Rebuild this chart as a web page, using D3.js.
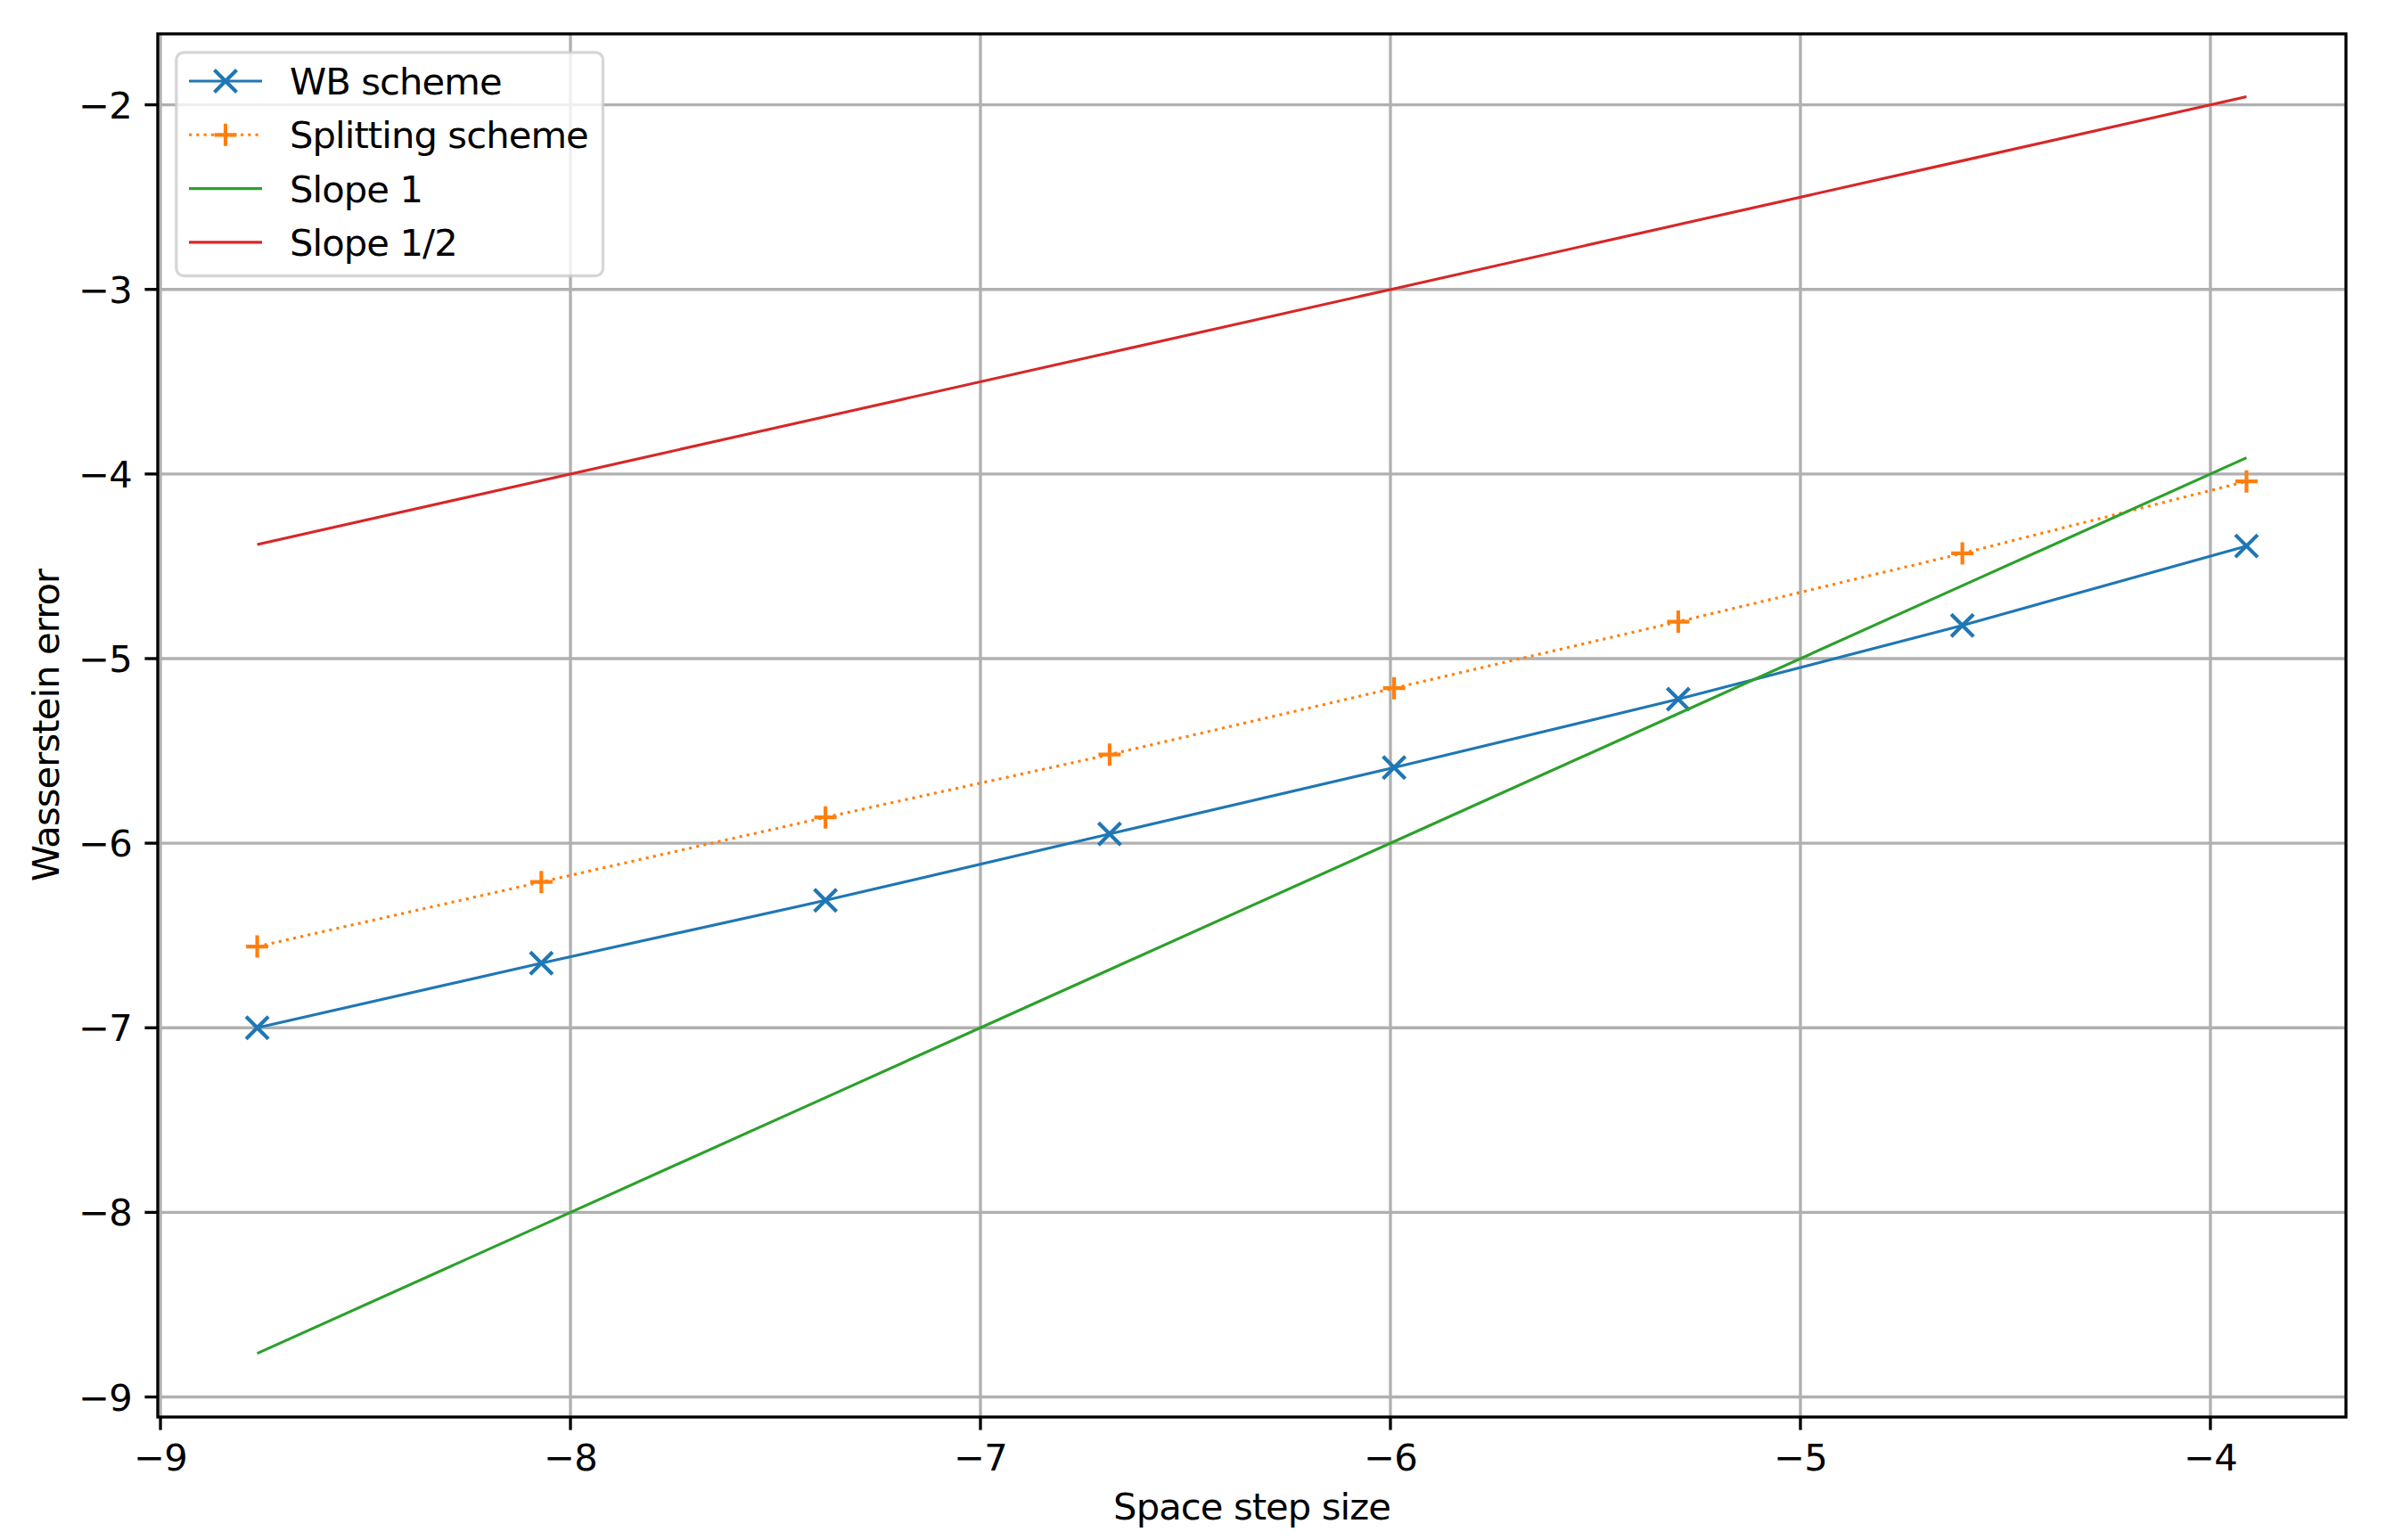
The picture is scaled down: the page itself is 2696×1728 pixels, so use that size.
<!DOCTYPE html>
<html>
<head>
<meta charset="utf-8">
<script src="https://cdn.jsdelivr.net/npm/d3@7"></script>
<style>
  html, body { margin: 0; padding: 0; background: #ffffff; }
  svg { display: block; }
  text { font-family: "DejaVu Sans", sans-serif; fill: #000; letter-spacing: -0.9px; }
</style>
</head>
<body>
<script>
// ---- data ----
const stepLog = [-8.764, -8.071, -7.378, -6.685, -5.991, -5.298, -4.605, -3.912];
const wbError = [-7.00, -6.65, -6.31, -5.95, -5.59, -5.22, -4.82, -4.39];
const splitError = [-6.56, -6.21, -5.86, -5.52, -5.16, -4.80, -4.43, -4.04];
const slope1 = [-8.764, -8.071, -7.378, -6.685, -5.991, -5.298, -4.605, -3.912];
const slopeHalf = [-4.382, -4.036, -3.689, -3.343, -2.996, -2.649, -2.303, -1.956];
const xTicks = [-9, -8, -7, -6, -5, -4];
const yTicks = [-9, -8, -7, -6, -5, -4, -3, -2];
const seriesNames = ["WB scheme", "Splitting scheme", "Slope 1", "Slope 1/2"];
const xLabel = "Space step size";
const yLabel = "Wasserstein error";

// ---- layout ----
const W = 2696, H = 1728;
const L = 177, R = 2632, T = 38, B = 1590;
const FS = 41.67;
const lw = 3.125, gridW = 3.33, spineW = 3.33, tickLen = 14.6, ms = 12.5, mew = 4.17;
const colors = ["#1f77b4", "#ff7f0e", "#2ca02c", "#d62728"];

const svg = d3.select("body").append("svg").attr("width", W).attr("height", H);
svg.append("rect").attr("width", W).attr("height", H).attr("fill", "#fff");

const x = d3.scaleLinear().domain([-9.0066, -3.6694]).range([L, R]);
const y = d3.scaleLinear().domain([-9.1085, -1.6157]).range([B, T]);

const fmt = v => (v < 0 ? "\u2212" : "") + Math.abs(v);

// grid
const grid = svg.append("g");
grid.selectAll("line.gx").data(xTicks).enter().append("line")
  .attr("x1", d => x(d)).attr("x2", d => x(d)).attr("y1", T).attr("y2", B)
  .attr("stroke", "#b0b0b0").attr("stroke-width", gridW);
grid.selectAll("line.gy").data(yTicks).enter().append("line")
  .attr("y1", d => y(d)).attr("y2", d => y(d)).attr("x1", L).attr("x2", R)
  .attr("stroke", "#b0b0b0").attr("stroke-width", gridW);

// clip
svg.append("clipPath").attr("id", "clip").append("rect")
  .attr("x", L).attr("y", T).attr("width", R - L).attr("height", B - T);

const plot = svg.append("g").attr("clip-path", "url(#clip)");
const line = d3.line().x(d => x(d[0])).y(d => y(d[1]));
const zip = (a, b) => a.map((v, i) => [v, b[i]]);

const series = [
  { vals: wbError, color: colors[0], dash: null, marker: "x" },
  { vals: splitError, color: colors[1], dash: `${lw},${(1.65 * lw).toFixed(3)}`, marker: "+" },
  { vals: slope1, color: colors[2], dash: null, marker: null },
  { vals: slopeHalf, color: colors[3], dash: null, marker: null }
];

function markerPath(type) {
  if (type === "x") return `M${-ms},${-ms}L${ms},${ms}M${-ms},${ms}L${ms},${-ms}`;
  if (type === "+") return `M${-ms},0L${ms},0M0,${-ms}L0,${ms}`;
  return "";
}

series.forEach(s => {
  const data = zip(stepLog, s.vals);
  const p = plot.append("path").datum(data).attr("d", line)
    .attr("fill", "none").attr("stroke", s.color).attr("stroke-width", lw);
  if (s.dash) p.attr("stroke-dasharray", s.dash);
  if (s.marker) {
    plot.selectAll(null).data(data).enter().append("path")
      .attr("transform", d => `translate(${x(d[0])},${y(d[1])})`)
      .attr("d", markerPath(s.marker))
      .attr("fill", "none").attr("stroke", s.color).attr("stroke-width", mew);
  }
});

// spines
svg.append("rect").attr("x", L).attr("y", T).attr("width", R - L).attr("height", B - T)
  .attr("fill", "none").attr("stroke", "#000").attr("stroke-width", spineW)
  .attr("stroke-linejoin", "miter");

// ticks
const ticks = svg.append("g");
ticks.selectAll("line.tx").data(xTicks).enter().append("line")
  .attr("x1", d => x(d)).attr("x2", d => x(d)).attr("y1", B).attr("y2", B + tickLen)
  .attr("stroke", "#000").attr("stroke-width", spineW);
ticks.selectAll("text.tx").data(xTicks).enter().append("text")
  .attr("x", d => x(d)).attr("y", 1650).attr("text-anchor", "middle")
  .attr("font-size", FS).text(fmt);
ticks.selectAll("line.ty").data(yTicks).enter().append("line")
  .attr("y1", d => y(d)).attr("y2", d => y(d)).attr("x1", L - tickLen).attr("x2", L)
  .attr("stroke", "#000").attr("stroke-width", spineW);
ticks.selectAll("text.ty").data(yTicks).enter().append("text")
  .attr("x", L - 2 * tickLen).attr("y", d => y(d) + 15).attr("text-anchor", "end")
  .attr("font-size", FS).text(fmt);

// axis labels
svg.append("text").attr("x", (L + R) / 2).attr("y", 1705).attr("text-anchor", "middle")
  .attr("font-size", FS).text(xLabel);
svg.append("text").attr("transform", `translate(66,${(T + B) / 2}) rotate(-90)`)
  .attr("text-anchor", "middle").attr("font-size", FS).text(yLabel);

// legend
const lg = svg.append("g");
const frameX = L + 20.8, frameY = T + 20.8;
const rowY0 = 91, rowGap = 60.3;
const hx0 = 212, hx1 = 294, tx = 325;
const frame = lg.append("rect").attr("x", frameX).attr("y", frameY)
  .attr("rx", 8.3).attr("ry", 8.3)
  .attr("fill", "#fff").attr("fill-opacity", 0.8)
  .attr("stroke", "#cccccc").attr("stroke-opacity", 0.8).attr("stroke-width", 3.3);
let maxW = 0;
series.forEach((s, i) => {
  const ry = rowY0 + i * rowGap;
  const l = lg.append("line").attr("x1", hx0).attr("x2", hx1).attr("y1", ry).attr("y2", ry)
    .attr("stroke", s.color).attr("stroke-width", lw);
  if (s.dash) l.attr("stroke-dasharray", s.dash);
  if (s.marker) {
    lg.append("path").attr("transform", `translate(${(hx0 + hx1) / 2},${ry})`)
      .attr("d", markerPath(s.marker)).attr("fill", "none")
      .attr("stroke", s.color).attr("stroke-width", mew);
  }
  const t = lg.append("text").attr("x", tx).attr("y", ry + 15).attr("font-size", FS).text(seriesNames[i]);
  maxW = Math.max(maxW, t.node().getBBox().width);
});
frame.attr("width", tx + maxW + 16.7 - frameX).attr("height", 309.5 - frameY);
</script>
</body>
</html>
